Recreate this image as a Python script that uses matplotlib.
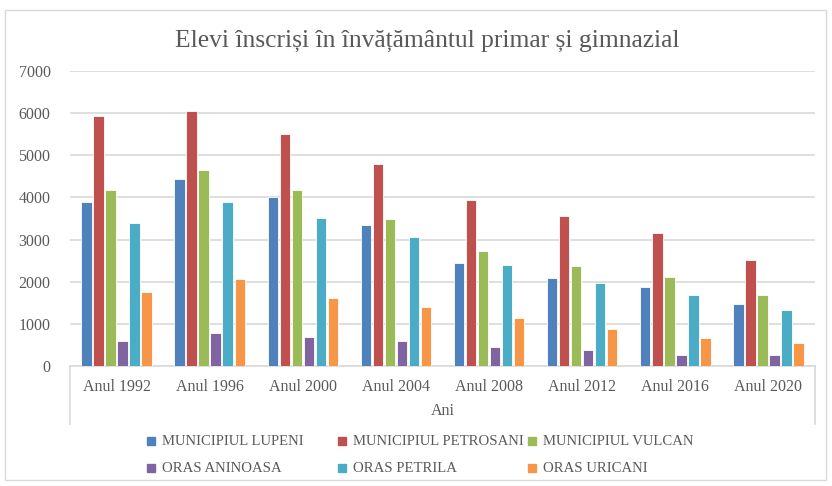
import matplotlib.pyplot as plt
import numpy as np
from matplotlib.patches import Rectangle
from matplotlib.lines import Line2D

years = ['Anul 1992', 'Anul 1996', 'Anul 2000', 'Anul 2004',
         'Anul 2008', 'Anul 2012', 'Anul 2016', 'Anul 2020']

names = ['MUNICIPIUL LUPENI', 'MUNICIPIUL PETROSANI', 'MUNICIPIUL VULCAN',
         'ORAS ANINOASA', 'ORAS PETRILA', 'ORAS URICANI']

lupeni = [3900, 4430, 4000, 3340, 2440, 2100, 1880, 1480]
petrosani = [5930, 6040, 5510, 4790, 3940, 3550, 3150, 2520]
vulcan = [4170, 4640, 4180, 3480, 2740, 2370, 2110, 1690]
aninoasa = [595, 780, 680, 595, 460, 380, 270, 260]
petrila = [3390, 3900, 3510, 3060, 2400, 1960, 1690, 1320]
uricani = [1745, 2060, 1615, 1410, 1140, 870, 665, 550]

series = [lupeni, petrosani, vulcan, aninoasa, petrila, uricani]
colors = ['#4F81BD', '#C0504D', '#9BBB59', '#8064A2', '#4BACC6', '#F79646']

plt.rcParams['font.family'] = ['Liberation Serif', 'DejaVu Serif']
txt = '#595959'

fig = plt.figure(figsize=(8.32, 4.86), dpi=100)
# outer chart frame
fig.patches.append(Rectangle((5 / 832, 6 / 486), 821 / 832, 470 / 486,
                             transform=fig.transFigure, fill=False,
                             edgecolor='#d9d9d9', linewidth=1))

ax = fig.add_axes([70 / 832, 1 - 366 / 486, 745 / 832, 295 / 486])

x = np.arange(len(years))
step = 0.129
width = 0.112
for i, vals in enumerate(series):
    ax.bar(x + (i - 2.5) * step, vals, width, color=colors[i],
           edgecolor='white', linewidth=0.6, label=names[i], zorder=3)

ax.set_xlim(-0.5, len(years) - 0.5)
ax.set_ylim(0, 7000)
ax.set_yticks(range(0, 7001, 1000))
ax.yaxis.grid(True, color='#d9d9d9', linewidth=1.2, zorder=0)
ax.set_xticks(x)
ax.set_xticklabels(years)
ax.tick_params(axis='both', length=0, labelsize=11.5, colors=txt, pad=9)
ax.tick_params(axis='y', pad=14)
for s in ['top', 'right', 'left']:
    ax.spines[s].set_visible(False)
ax.spines['bottom'].set_color('#d9d9d9')
ax.spines['bottom'].set_linewidth(1.2)

# category axis box lines
for xf in [70 / 832, 815 / 832]:
    fig.lines.append(Line2D([xf, xf], [1 - 366 / 486, 1 - 424 / 486],
                            transform=fig.transFigure, color='#d9d9d9', linewidth=1.2))

fig.text(443 / 832, 1 - 411 / 486, 'Ani', ha='center', va='center',
         fontsize=11.5, color=txt)
fig.text(427 / 832, 1 - 41 / 486,
         'Elevi înscriși în învățământul primar și gimnazial',
         ha='center', va='center', fontsize=18.4, color=txt)

# legend, laid out in a 3 x 2 grid like the original
col_x = [147, 338, 528]
row_y = [441, 468]
for i, name in enumerate(names):
    cx = col_x[i % 3]
    cy = row_y[i // 3]
    fig.patches.append(Rectangle((cx / 832, 1 - (cy + 4) / 486), 8 / 832, 8 / 486,
                                 transform=fig.transFigure, color=colors[i]))
    fig.text((cx + 15) / 832, 1 - cy / 486, name, ha='left', va='center',
             fontsize=10.6, color=txt, family='Liberation Serif')

fig.savefig('out.png', dpi=100)
